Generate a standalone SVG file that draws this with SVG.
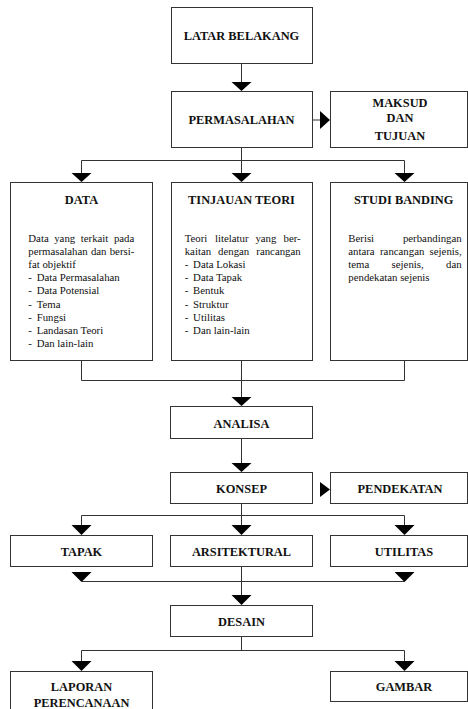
<svg xmlns="http://www.w3.org/2000/svg" width="468" height="709" viewBox="0 0 468 709">
<style>
.box{fill:#fff;stroke:#333;stroke-width:1}
.ln{fill:none;stroke:#333;stroke-width:1}
.ar{fill:#000;stroke:none}
text{font-family:'Liberation Serif','Tinos','DejaVu Serif',serif;fill:#111}
.t{font-weight:bold;font-size:12.4px;text-anchor:middle}
.b{font-size:10.8px}
.e{text-anchor:end}
</style>
<rect width="468" height="709" fill="#fff"/>
<g id="connectors">
<path class="ln" d="M241.5 63V83"/>
<polygon class="ar" points="231.5,82 251.5,82 241.5,91"/>
<path class="ln" d="M312 120H320"/>
<polygon class="ar" points="320,111 320,129 330,120"/>
<path class="ln" d="M241.5 147V173M81.5 173V160.5H404.5V173"/>
<polygon class="ar" points="71.5,173 91.5,173 81.5,182"/>
<polygon class="ar" points="231.5,173 251.5,173 241.5,182"/>
<polygon class="ar" points="394.5,173 414.5,173 404.5,182"/>
<path class="ln" d="M81.5 361V380.5H404.5V361M241.5 361V398"/>
<polygon class="ar" points="231.5,397 251.5,397 241.5,406"/>
<path class="ln" d="M241.5 438V464"/>
<polygon class="ar" points="231.5,463 251.5,463 241.5,472"/>
<polygon class="ar" points="320,482 320,497 330,489.5"/>
<path class="ln" d="M241.5 503V526M81.5 526V515.5H404.5V526"/>
<polygon class="ar" points="71.5,525 91.5,525 81.5,535"/>
<polygon class="ar" points="231.5,525 251.5,525 241.5,535"/>
<polygon class="ar" points="394.5,525 414.5,525 404.5,535"/>
<polygon class="ar" points="71.5,572 91.5,572 81.5,582"/>
<polygon class="ar" points="394.5,572 414.5,572 404.5,582"/>
<path class="ln" d="M81.5 581.5H404.5M241.5 566V596"/>
<polygon class="ar" points="231.5,595 251.5,595 241.5,605"/>
<path class="ln" d="M241.5 637V650.5M81.5 662V650.5H404.5V662"/>
<polygon class="ar" points="71.5,661 91.5,661 81.5,671"/>
<polygon class="ar" points="394.5,661 414.5,661 404.5,671"/>
</g>
<g id="latar"><rect class="box" x="171.5" y="7.5" width="141" height="56"/><text class="t" x="241.5" y="40">LATAR BELAKANG</text></g>
<g id="permasalahan"><rect class="box" x="171.5" y="91.5" width="141" height="56"/><text class="t" x="241.5" y="124">PERMASALAHAN</text></g>
<g id="maksud"><rect class="box" x="330.5" y="91.5" width="137" height="56"/><text class="t" x="400" y="107">MAKSUD</text><text class="t" x="400" y="122">DAN</text><text class="t" x="400" y="140">TUJUAN</text></g>
<g id="data"><rect class="box" x="10.5" y="182.5" width="142" height="178"/><text class="t" x="81.5" y="203.5">DATA</text>
<text class="b" y="241.5"><tspan x="28.3">Data</tspan><tspan x="54.2">yang</tspan><tspan x="80.8">terkait</tspan><tspan x="134.3" class="e">pada</tspan></text>
<text class="b" y="254.7"><tspan x="28.3">permasalahan</tspan><tspan x="90.9">dan</tspan><tspan x="134.3" class="e">bersi-</tspan></text>
<text class="b" x="28.3" y="268">fat objektif</text>
<text class="b" y="281"><tspan x="28.3">-</tspan><tspan x="36.7">Data Permasalahan</tspan></text>
<text class="b" y="294"><tspan x="28.3">-</tspan><tspan x="36.7">Data Potensial</tspan></text>
<text class="b" y="307.5"><tspan x="28.3">-</tspan><tspan x="36.7">Tema</tspan></text>
<text class="b" y="320.5"><tspan x="28.3">-</tspan><tspan x="36.7">Fungsi</tspan></text>
<text class="b" y="334"><tspan x="28.3">-</tspan><tspan x="36.7">Landasan Teori</tspan></text>
<text class="b" y="347"><tspan x="28.3">-</tspan><tspan x="36.7">Dan lain-lain</tspan></text>
</g>
<g id="tinjauan"><rect class="box" x="171.5" y="182.5" width="141" height="178"/><text class="t" x="241.5" y="203.5">TINJAUAN TEORI</text>
<text class="b" y="241.5"><tspan x="184.7">Teori</tspan><tspan x="215">litelatur</tspan><tspan x="255.4">yang</tspan><tspan x="300.7" class="e">ber-</tspan></text>
<text class="b" y="254.7"><tspan x="184.7">kaitan</tspan><tspan x="218.1">dengan</tspan><tspan x="300.7" class="e">rancangan</tspan></text>
<text class="b" y="268"><tspan x="184.7">-</tspan><tspan x="193.1">Data Lokasi</tspan></text>
<text class="b" y="281"><tspan x="184.7">-</tspan><tspan x="193.1">Data Tapak</tspan></text>
<text class="b" y="294"><tspan x="184.7">-</tspan><tspan x="193.1">Bentuk</tspan></text>
<text class="b" y="307.5"><tspan x="184.7">-</tspan><tspan x="193.1">Struktur</tspan></text>
<text class="b" y="320.5"><tspan x="184.7">-</tspan><tspan x="193.1">Utilitas</tspan></text>
<text class="b" y="334"><tspan x="184.7">-</tspan><tspan x="193.1">Dan lain-lain</tspan></text>
</g>
<g id="studi"><rect class="box" x="330.5" y="182.5" width="137" height="178"/><text class="t" x="403.7" y="203.5">STUDI BANDING</text>
<text class="b" y="241.5"><tspan x="348.3">Berisi</tspan><tspan x="461.7" class="e">perbandingan</tspan></text>
<text class="b" y="254.7"><tspan x="348.3">antara</tspan><tspan x="380">rancangan</tspan><tspan x="461.7" class="e">sejenis,</tspan></text>
<text class="b" y="268"><tspan x="348.3">tema</tspan><tspan x="391.6">sejenis,</tspan><tspan x="461.7" class="e">dan</tspan></text>
<text class="b" x="348.3" y="281">pendekatan sejenis</text>
</g>
<g id="analisa"><rect class="box" x="170.5" y="406.5" width="142" height="32"/><text class="t" x="241.5" y="427.5">ANALISA</text></g>
<g id="konsep"><rect class="box" x="170.5" y="472.5" width="142" height="31"/><text class="t" x="241.5" y="493">KONSEP</text></g>
<g id="pendekatan"><rect class="box" x="330.5" y="472.5" width="137" height="31"/><text class="t" x="400" y="493">PENDEKATAN</text></g>
<g id="tapak"><rect class="box" x="10.5" y="535.5" width="142" height="31"/><text class="t" x="81.5" y="556">TAPAK</text></g>
<g id="arsitektural"><rect class="box" x="170.5" y="535.5" width="142" height="31"/><text class="t" x="241.5" y="556">ARSITEKTURAL</text></g>
<g id="utilitas"><rect class="box" x="330.5" y="535.5" width="137" height="31"/><text class="t" x="404" y="556">UTILITAS</text></g>
<g id="desain"><rect class="box" x="170.5" y="605.5" width="142" height="31"/><text class="t" x="241.5" y="626">DESAIN</text></g>
<g id="laporan"><rect class="box" x="10.5" y="671.5" width="142" height="45"/><text class="t" x="81.5" y="691">LAPORAN</text><text class="t" x="81.5" y="707">PERENCANAAN</text></g>
<g id="gambar"><rect class="box" x="330.5" y="671.5" width="137" height="30"/><text class="t" x="404" y="691">GAMBAR</text></g>
</svg>
